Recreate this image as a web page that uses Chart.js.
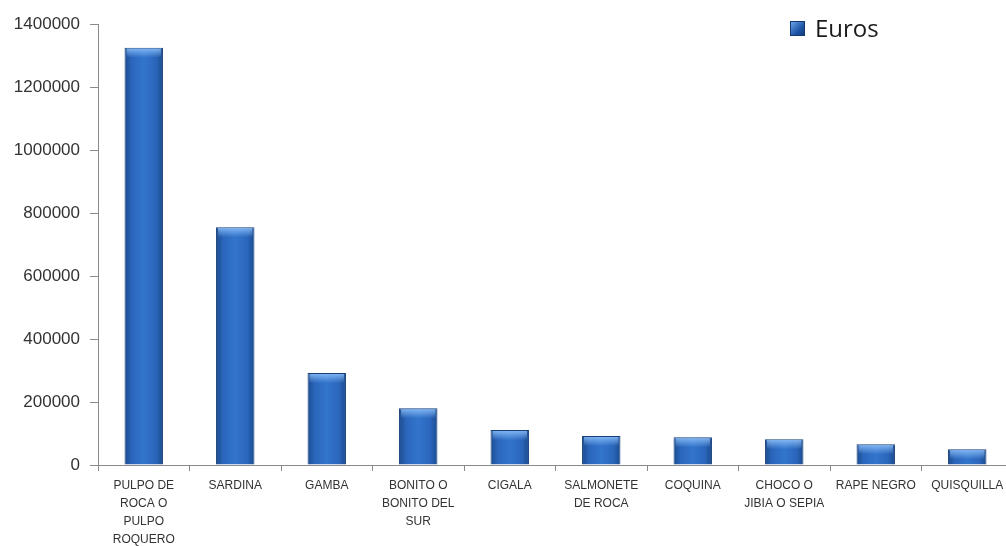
<!DOCTYPE html>
<html>
<head>
<meta charset="utf-8">
<script src="https://cdn.jsdelivr.net/npm/chart.js@4/dist/chart.umd.min.js"></script>
<style>
html,body{margin:0;padding:0;background:#fff;overflow:hidden;width:1006px;height:546px;}
#wrap{position:relative;width:1014px;height:546px;}
#legend{position:absolute;left:790px;top:11px;font-family:"Open Sans","Liberation Sans",sans-serif;font-size:24px;color:#1a1a1a;display:flex;align-items:center;line-height:34px;}
#legend span.box{display:inline-block;width:13px;height:13px;margin-right:10px;background:linear-gradient(135deg,#6aa3e6,#1f57a8 60%,#143d7a);border:1px solid #123a70;}
</style>
</head>
<body>
<div id="wrap">
<canvas id="c" width="1014" height="546"></canvas>
<div id="legend"><span class="box"></span><span id="legtxt"></span></div>
</div>
<script>
const categories = [
  ["PULPO DE","ROCA O","PULPO","ROQUERO"],
  "SARDINA",
  "GAMBA",
  ["BONITO O","BONITO DEL","SUR"],
  "CIGALA",
  ["SALMONETE","DE ROCA"],
  "COQUINA",
  ["CHOCO O","JIBIA O SEPIA"],
  "RAPE NEGRO",
  "QUISQUILLA"
];
const seriesName = "Euros";
const euros = [1325000, 755000, 292000, 180000, 111000, 92000, 88000, 82000, 66000, 50000];
const yTicks = [0, 200000, 400000, 600000, 800000, 1000000, 1200000, 1400000];

document.getElementById('legtxt').textContent = seriesName;

const BAR_PCT = 0.42;
function barGradient(ctx){
  const chart = ctx.chart;
  const xs = chart.scales.x;
  if(!xs || ctx.dataIndex === undefined) return '#2a66b8';
  const cx = xs.getPixelForValue(ctx.dataIndex);
  const w = (xs.width / categories.length) * BAR_PCT;
  if(!isFinite(cx)) return '#2a66b8';
  const g = chart.ctx.createLinearGradient(cx - w/2, 0, cx + w/2, 0);
  g.addColorStop(0, '#1b4a8c');
  g.addColorStop(0.18, '#2a66bb');
  g.addColorStop(0.5, '#3375cc');
  g.addColorStop(0.82, '#2a66bb');
  g.addColorStop(1, '#1b4a8c');
  return g;
}

const topShine = {
  id: 'topShine',
  afterDatasetsDraw(chart){
    const c = chart.ctx;
    const meta = chart.getDatasetMeta(0);
    meta.data.forEach(el => {
      const w = el.width, x0 = el.x - w/2, y0 = el.y;
      const h = Math.min(10, el.base - el.y);
      const g = c.createLinearGradient(0, y0, 0, y0 + h);
      g.addColorStop(0, 'rgba(150,200,255,0.85)');
      g.addColorStop(1, 'rgba(150,200,255,0)');
      c.save();
      c.fillStyle = g;
      c.fillRect(x0 + 2, y0 + 1, w - 4, h);
      c.restore();
    });
  }
};

new Chart(document.getElementById('c'), {
  type: 'bar',
  data: {
    labels: categories,
    datasets: [{
      label: seriesName,
      data: euros,
      backgroundColor: barGradient,
      borderColor: '#173f78',
      borderWidth: 1,
      barPercentage: BAR_PCT,
      categoryPercentage: 1
    }]
  },
  options: {
    responsive: false,
    animation: false,
    layout: { padding: { top: 24, right: 1, left: 0, bottom: 0 } },
    plugins: { legend: { display: false }, tooltip: { enabled: false } },
    scales: {
      y: {
        min: 0, max: 1400000,
        afterBuildTicks(s){ s.ticks = yTicks.map(v => ({value: v})); },
        afterFit(s){ s.width = 98; },
        border: { display: true, color: '#8a8a8a', width: 1 },
        grid: { display: true, drawOnChartArea: false, drawTicks: true, tickLength: 8, color: '#8a8a8a' },
        ticks: {
          padding: 10,
          color: '#333',
          callback: (v) => String(v),
          font: { family: "'Liberation Sans', Arial, sans-serif", size: 17 }
        }
      },
      x: {
        afterFit(s){ s.height = 81; },
        border: { display: true, color: '#8a8a8a', width: 1 },
        grid: { display: true, offset: true, drawOnChartArea: false, drawTicks: true, tickLength: 6, color: '#8a8a8a' },
        ticks: {
          padding: 6,
          maxRotation: 0, autoSkip: false,
          color: '#333',
          font: { family: "'Liberation Sans Narrow', 'Liberation Sans', Arial, sans-serif", size: 12, lineHeight: 1.5 }
        }
      }
    }
  },
  plugins: [topShine]
});
</script>
</body>
</html>
